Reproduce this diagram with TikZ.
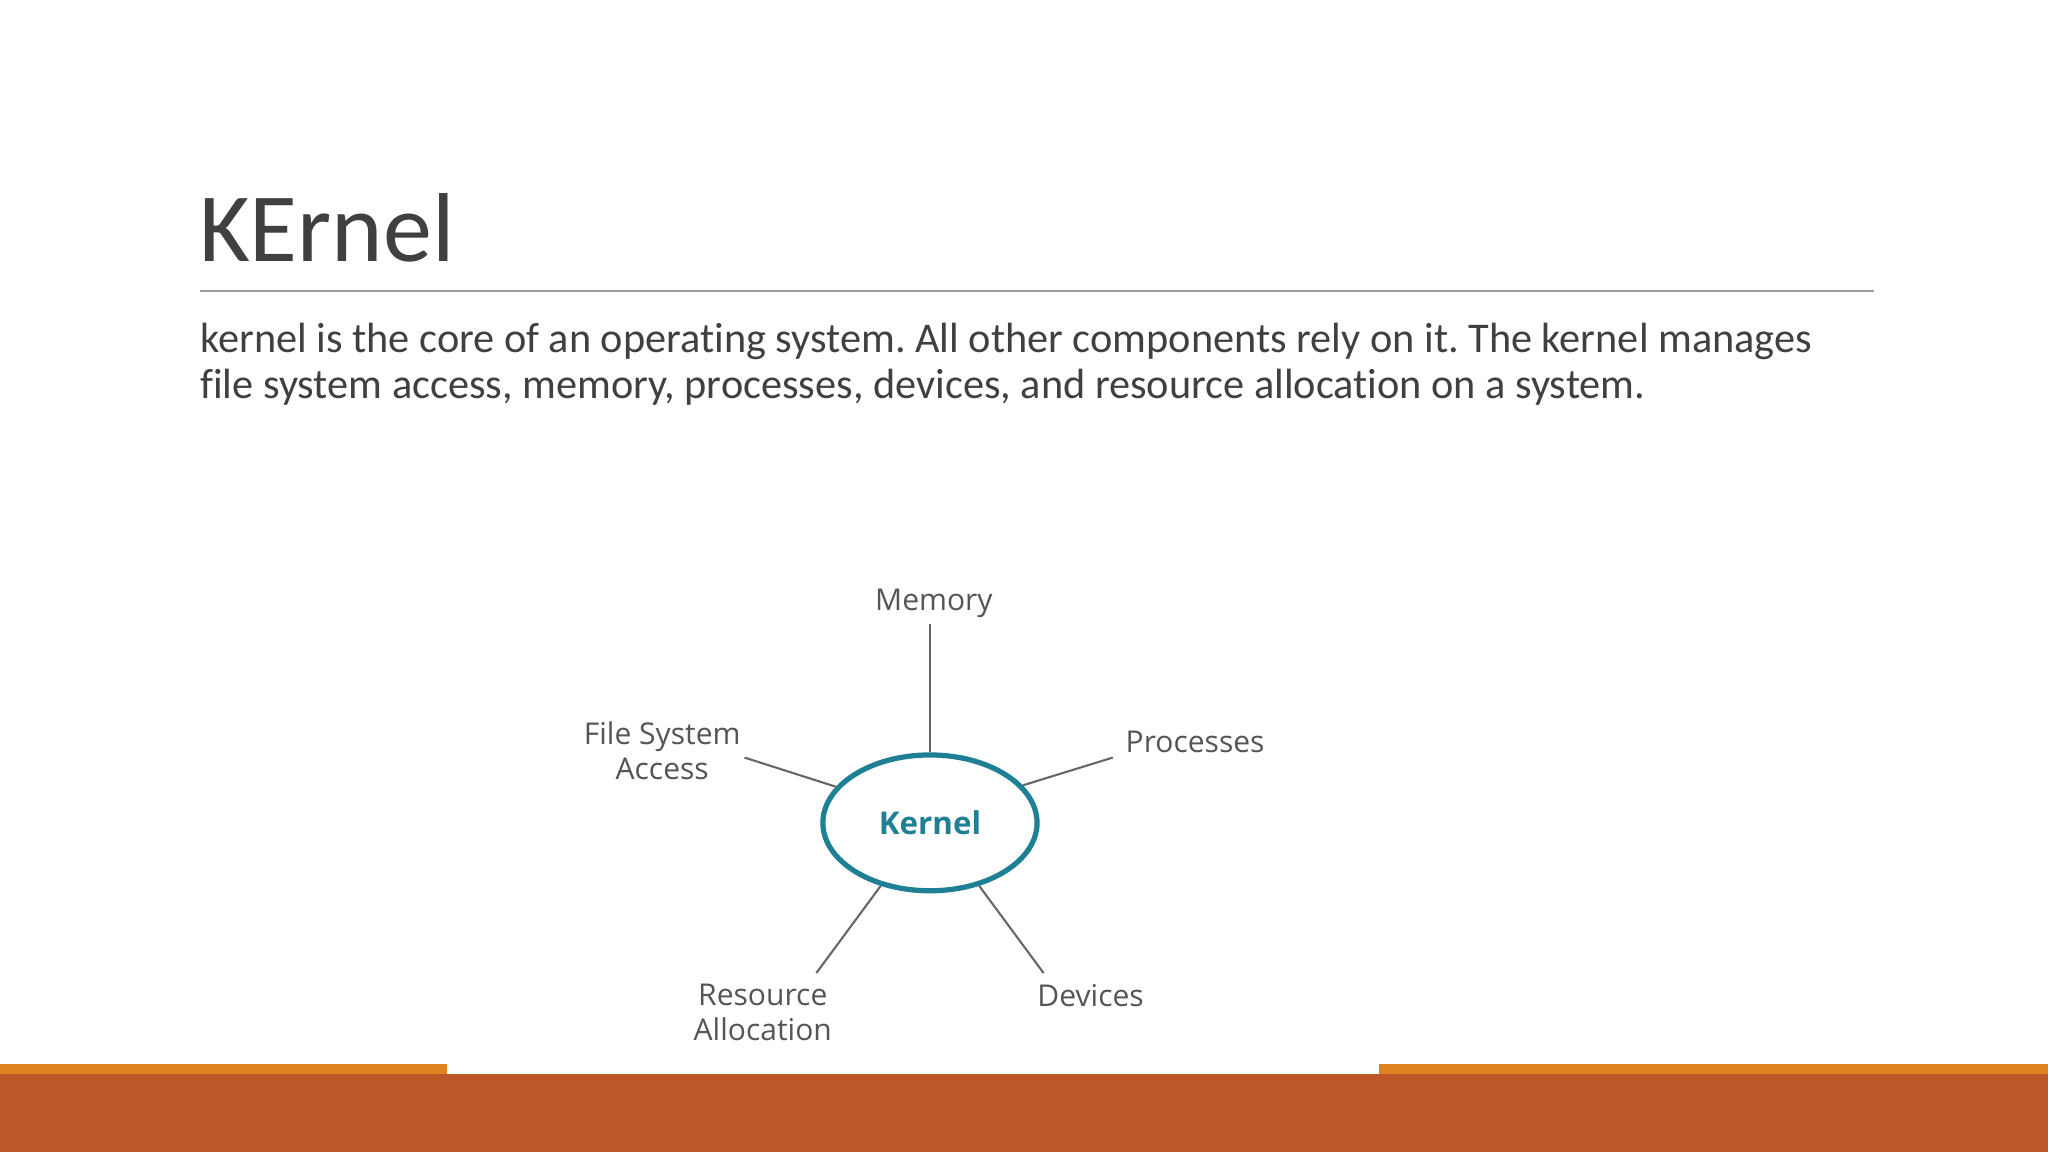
\documentclass[tikz,border=0pt]{standalone}
\usepackage{fontspec}
\setmainfont{Carlito}[Ligatures=NoCommon]
\newfontfamily\diafont{Open Sans}
\usetikzlibrary{shapes.geometric}
\definecolor{txt}{HTML}{404040}
\definecolor{teal}{HTML}{1E7F95}
\definecolor{barred}{HTML}{BE582B}
\definecolor{barorange}{HTML}{E0821E}
\definecolor{lbl}{HTML}{555555}
\tikzset{lab/.style={font=\diafont\fontsize{11.5}{13.5}\selectfont, text=lbl, align=center, inner sep=1pt},
 spoke/.style={draw=lbl!90, line width=0.8pt}}
\frenchspacing
\begin{document}
\begin{tikzpicture}[x=0.5pt,y=-0.5pt]
\useasboundingbox (0,0) rectangle (1568,882);
\fill[white] (0,0) rectangle (1568,882);
\node[anchor=base west, inner sep=0, text=txt, font=\fontsize{37.5}{42}\selectfont] (title) at (152,200) {KErnel};
\draw[gray!80, line width=0.6pt] (153,223) coordinate (r1) -- (1435,223) coordinate (r2);
\node[anchor=north west, inner sep=0, text=txt, align=left, font=\fontsize{16.2}{17.5}\selectfont] (body) at (153,247)
 {kernel is the core of an operating system. All other components rely on it. The kernel manages\\file system access, memory, processes, devices, and resource allocation on a system.};
\node[draw=teal, line width=2pt, ellipse, minimum width=82pt, minimum height=52pt, inner sep=0] (k) at (712,630)
 {\diafont\bfseries\fontsize{12}{14}\selectfont\color{teal}Kernel};
\node[lab] (mem) at (715,462) {Memory};
\node[lab] (proc) at (915,568) {Processes};
\node[lab] (fsa) at (507,575) {File System\\Access};
\node[lab] (res) at (584,775) {Resource\\Allocation};
\node[lab] (dev) at (835,762) {Devices};
\coordinate (cm) at (712,478);
\coordinate (cp) at (852,580);
\coordinate (cf) at (570,580);
\coordinate (cr) at (625,745);
\coordinate (cd) at (799,745);
\draw[spoke] (cm) -- (k.90);
\draw[spoke] (cp) -- (k.22);
\draw[spoke] (cf) -- (k.159);
\draw[spoke] (cr) -- (k.232);
\draw[spoke] (cd) -- (k.308);
\fill[barorange] (0,815) rectangle (342,823);
\fill[barorange] (1056,815) rectangle (1568,823);
\fill[barred] (0,822) rectangle (1568,882);
\end{tikzpicture}
\end{document}
